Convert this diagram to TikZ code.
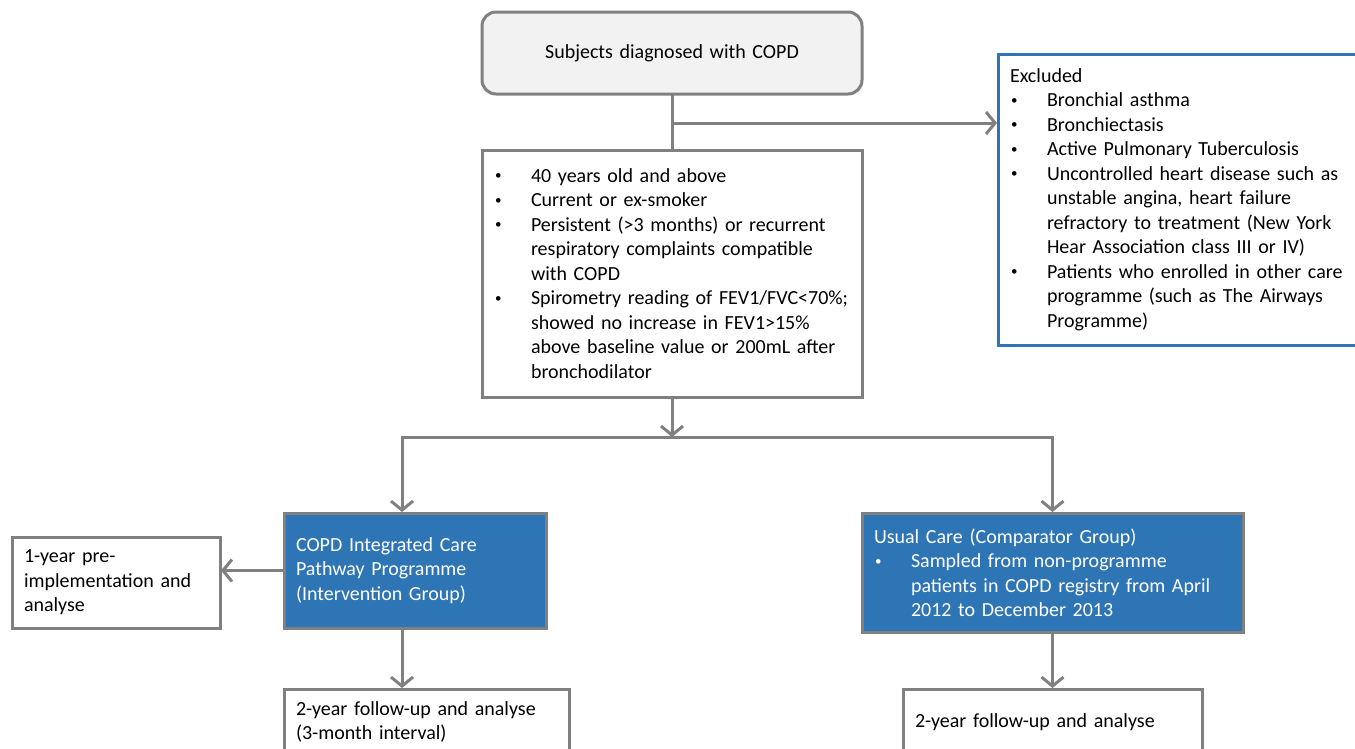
\documentclass[tikz,border=0pt]{standalone}
\usepackage{fontspec}
\setmainfont{Carlito}
\usetikzlibrary{arrows.meta}

\definecolor{linegray}{RGB}{128,128,128}
\definecolor{copdblue}{RGB}{46,117,182}
\definecolor{topgray}{RGB}{242,242,242}

\newcommand{\bul}{\makebox[37pt][l]{\hspace{1pt}\raisebox{2.5pt}{\fontsize{13pt}{13pt}\selectfont\textbullet}}}
\newcommand{\bulpad}{\hspace*{37pt}}

\begin{document}
\begin{tikzpicture}[
        x=1pt, y=-1pt,
        >={Straight Barb[length=9pt,width=22pt]},
        box/.style={draw=linegray, line width=3pt, fill=white, anchor=north west,
                    inner xsep=12pt, inner ysep=0pt, outer sep=0pt, align=left,
                    font=\fontsize{20pt}{24.5pt}\selectfont},
        greybox/.style={box, fill=topgray, rounded corners=14pt, align=center},
        bluebox/.style={box, fill=copdblue, text=white},
        exclbox/.style={box, draw=copdblue},
        link/.style={draw=linegray, line width=3pt, ->, shorten >=1pt},
        plain/.style={draw=linegray, line width=3pt},
    ]
    \useasboundingbox (0,0) rectangle (1355,748);
    \clip (0,0) rectangle (1355,748);

    % top of the flow
    \node[greybox, text width=356pt, minimum height=82pt] (subj) at (482,12)
        {Subjects diagnosed with COPD};

    \node[box, text width=356pt, minimum height=247pt] (crit) at (482,150)
        {\bul 40 years old and above\\
         \bul Current or ex-smoker\\
         \bul Persistent (>3 months) or recurrent\\
         \bulpad respiratory complaints compatible\\
         \bulpad with COPD\\
         \bul Spirometry reading of FEV1/FVC<70\%;\\
         \bulpad showed no increase in FEV1>15\%\\
         \bulpad above baseline value or 200mL after\\
         \bulpad bronchodilator};

    \node[exclbox, text width=346pt, minimum height=291pt] (excl) at (998,54)
        {Excluded\\
         \bul Bronchial asthma\\
         \bul Bronchiectasis\\
         \bul Active Pulmonary Tuberculosis\\
         \bul Uncontrolled heart disease such as\\
         \bulpad unstable angina, heart failure\\
         \bulpad refractory to treatment (New York\\
         \bulpad Hear Association class III or IV)\\
         \bul Patients who enrolled in other care\\
         \bulpad programme (such as The Airways\\
         \bulpad Programme)};

    % the two groups
    \node[bluebox, text width=238pt, minimum height=115pt] (icp) at (284,513)
        {COPD Integrated Care\\
         Pathway Programme\\
         (Intervention Group)};

    \node[box, text width=184pt, minimum height=91pt] (pre) at (12,537)
        {1-year pre-\\
         implementation and\\
         analyse};

    \node[bluebox, text width=357pt, minimum height=119pt] (usual) at (862,513)
        {Usual Care (Comparator Group)\\
         \bul Sampled from non-programme\\
         \bulpad patients in COPD registry from April\\
         \bulpad 2012 to December 2013};

    \node[box, text width=261pt, minimum height=66pt] (fupA) at (284,689)
        {2-year follow-up and analyse\\
         (3-month interval)};

    \node[box, text width=275pt, minimum height=66pt] (fupB) at (903,689)
        {2-year follow-up and analyse};

    % connectors
    \coordinate (branch) at (672,123);
    \coordinate (split) at (672,437);
    \coordinate (lhub) at (402,437);

    \draw[plain] (subj.south) -- (crit.north);
    \draw[link] (branch) -- (branch -| excl.west);
    \draw[link, shorten >=0pt] (crit.south) -- (split);
    \draw[link] (split) -| (lhub |- icp.north);
    \draw[link] (split) -| (usual.north);
    \draw[link] (icp.west) -- (icp.west -| pre.east);
    \draw[link] (lhub |- icp.south) -- (lhub |- fupA.north);
    \draw[link] (usual.south) -- (fupB.north);

    \end{tikzpicture}
\end{document}
